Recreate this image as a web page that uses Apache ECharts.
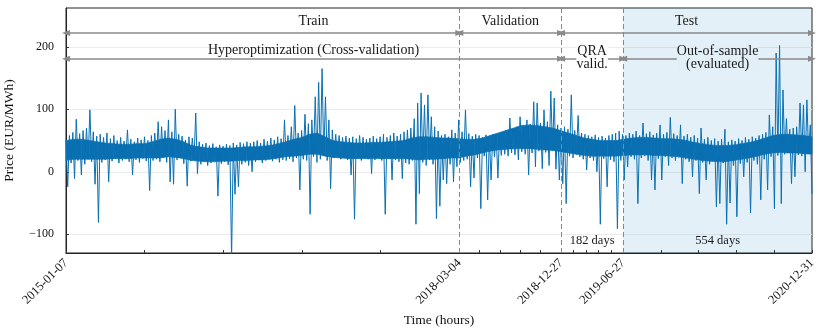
<!DOCTYPE html>
<html>
<head>
<meta charset="utf-8">
<script src="https://cdn.jsdelivr.net/npm/echarts@6/dist/echarts.min.js"></script>
<style>
html, body { margin: 0; padding: 0; background: #fff; }
#chart { width: 822px; height: 336px; }
</style>
</head>
<body>
<div id="chart"></div>
<script>
// hourly price, decimated to one max/min pick every 5 days
const startDate = '2015-01-07';
const stepDays = 5;
const bodyStepDays = 23;
const tickDates = ['2015-01-07', '2018-03-04', '2018-12-27', '2019-06-27', '2020-12-31'];
const yTicks = [-100, 0, 100, 200];

const pricePart1 = [
  52,-24,58,14,63,-11,84,18,61,-5,
  66,12,70,20,99,16,64,-20,57,-81,
  60,15,55,19,62,-16,53,17,58,21,
  50,14,55,18,49,20,67,16,52,-5,
  48,19,54,15,51,21,56,17,50,-30,
  58,18,62,20,80,16,72,22,66,15,
  83,-16,64,-20,100,19,60,24,57,13,
  51,-23,56,17,54,20,94,-3,48,12,
  44,16,46,10,42,14,45,18,40,-39,
  43,13,41,16,44,11,42,-140,46,-36,
  43,-24,47,12,45,15,48,10,46
];
const pricePart2 = [
  0,
  48,16,50,19,46,14,52,18,49,21,
  54,17,51,20,56,15,53,19,83,18,
  58,21,72,16,106,22,62,-29,66,20,
  92,18,77,-68,83,24,120,15,143,20,
  165,26,120,18,83,-27,67,22,60,25,
  58,20,55,23,57,19,54,-5,56,-76,
  53,21,58,18,55,22,52,20,54,-3,
  57,19,53,23,56,18,60,-68,55,21,
  58,-13,62,19,57,16,60,-11,64,14,
  67,12,70,18,85,-84,110,-35,126,15,
  107,10,123,19,88,12,72,-75,65,-55
];
const pricePart3 = [
  58,-13,60,-19,56,12,67,-16,62,8,
  83,15,64,18,99,20,61,-24,57,-10,
  60,22,58,-59,55,25,59,-45,56,-13,
  60,24,58,-10,62,26,64,28,66,25,
  86,30,70,27,72,19,88,32,74,28,
  83,-5,76,30,112,8,110,33,78,5,
  99,31,80,10,129,34,118,4,75,-13,
  70,-19,72,-51,68,25,123,22,66,28,
  90,24,62,20,60,3,58,22,56,18,
  59,0,55,-84,57,21,54,-24,58,19,
  60,16,62,-91,65,18,60
];
const pricePart4 = [
  -13,
  58,8,62,24,60,20,65,-51,58,22,
  78,25,61,18,64,-13,59,-29,62,21,
  75,-13,60,24,63,10,87,22,61,18,
  58,23,75,-19,57,20,60,16,55,-8,
  58,18,54,-35,70,15,52,-13,55,12,
  50,17,53,-56,49,-51,52,14,68,-84,
  48,-50,51,10,49,-72,53,13,50,-8,
  55,15,52,-66,56,18,54,12,58,-45,
  60,20,63,-29,91,24,72,-59,190,26,
  202,-51,131,28,85,30,68,-19,70,-8,
  72,27,110,25,107,0,115,30,75,-35
];

// dense core of the hourly band, every 23 days
const bodyTop = [
  50,52,52,50,48,46,45,44,44,45,45,48,
  52,54,52,48,42,40,38,38,38,38,39,40,
  40,41,42,45,48,52,55,60,62,56,50,48,
  47,46,46,47,47,48,49,50,54,56,56,55,
  54,54,53,52,52,54,58,62,66,70,74,75,
  74,72,70,66,62,58,54,52,50,50,50,52,
  54,55,55,54,53,53,52,50,47,45,43,42,
  42,43,45,47,50,54,58,60,60,59,58,56
];
const bodyBottom = [
  18,20,20,20,20,20,21,21,21,22,22,22,
  22,24,23,21,18,17,16,16,17,17,18,18,
  19,19,20,22,24,25,26,28,28,25,23,22,
  21,21,21,21,21,21,21,21,20,19,20,20,
  21,22,22,25,27,30,33,35,36,37,37,37,
  36,35,34,32,30,28,26,25,25,25,25,26,
  27,27,27,26,26,25,24,22,20,18,17,16,
  16,18,20,22,25,28,30,31,30,30,29,28
];

const prices = [].concat(pricePart1, pricePart2, pricePart3, pricePart4);
const seriesData = prices.map((v, i) => [i * stepDays, v]);
const bodyData = bodyTop.map((v, i) => [i * bodyStepDays, bodyBottom[i], v]);

const dayOf = s => (Date.parse(s) - Date.parse(startDate)) / 864e5;
const dateOf = d => new Date(Date.parse(startDate) + Math.round(d) * 864e5).toISOString().slice(0, 10);
const tickDays = tickDates.map(dayOf);
const [tStart, tValStart, tValEnd, tTestStart, tEnd] = tickDays;
const mid = (a, b) => (a + b) / 2;

// major + 4 minor ticks between labels
const allTicks = [];
for (let k = 0; k < tickDays.length - 1; k++) {
  const a = tickDays[k], b = tickDays[k + 1];
  for (let j = 0; j < 5; j++) allTicks.push(a + (b - a) * j / 5);
}
allTicks.push(tEnd);

const font = 'Liberation Serif';
const blue = '#0a70b2';
const shade = 'rgba(0,114,178,0.11)';
const shadeSolid = '#e3eff6';
const rowTop = 222, rowMid = 181, rowBottom = -110;

const arrow = (a, b, y) => [{ coord: [a, y] }, { coord: [b, y] }];
const note = (name, x, y, size, bg) => ({
  name: name, coord: [x, y],
  label: { fontSize: size, backgroundColor: bg || 'transparent' }
});

// band between two neighbouring core points
function renderBody(params, api) {
  const i = params.dataIndex;
  if (i >= bodyData.length - 1) return null;
  const a = bodyData[i], b = bodyData[i + 1];
  return {
    type: 'polygon',
    shape: { points: [api.coord([a[0], a[2]]), api.coord([b[0], b[2]]), api.coord([b[0], b[1]]), api.coord([a[0], a[1]])] },
    style: { fill: blue, stroke: blue, lineWidth: 0.6 }
  };
}

const chart = echarts.init(document.getElementById('chart'));
chart.setOption({
  animation: false,
  grid: {
    left: 66, right: 10, top: 8, bottom: 83,
    containLabel: false, outerBoundsMode: 'none',
    show: true, borderColor: '#222', borderWidth: 1
  },
  xAxis: {
    type: 'value', min: tStart, max: tEnd,
    name: 'Time (hours)', nameLocation: 'middle', nameGap: 57,
    nameTextStyle: { fontFamily: font, fontSize: 13.5, color: '#111' },
    axisLine: { onZero: false, lineStyle: { color: '#222' } },
    axisTick: { inside: true, length: 3, customValues: allTicks, lineStyle: { color: '#333' } },
    axisLabel: {
      customValues: tickDays, rotate: 45, margin: 8,
      fontFamily: font, fontSize: 12.5, color: '#111',
      formatter: v => dateOf(v)
    },
    splitLine: { show: false }
  },
  yAxis: {
    type: 'value', min: -130, max: 262,
    name: 'Price (EUR/MWh)', nameLocation: 'middle', nameGap: 50,
    nameTextStyle: { fontFamily: font, fontSize: 13.5, color: '#111' },
    axisLine: { show: true, onZero: false, lineStyle: { color: '#222' } },
    axisTick: { show: true, inside: true, length: 3, customValues: yTicks, lineStyle: { color: '#333' } },
    axisLabel: {
      customValues: yTicks, margin: 12,
      fontFamily: font, fontSize: 12, color: '#111',
      formatter: v => (v < 0 ? '\u2212' + Math.abs(v) : String(v))
    },
    splitLine: { show: true, lineStyle: { color: '#ececec', width: 1 } }
  },
  series: [
    {
      type: 'line', data: [], z: 1, silent: true,
      markArea: {
        silent: true, itemStyle: { color: shade },
        data: [[{ xAxis: tTestStart }, { xAxis: tEnd }]]
      },
      markLine: {
        silent: true, symbol: ['none', 'none'],
        label: { show: false },
        lineStyle: { color: '#888', type: [5, 3], width: 1 },
        data: [{ xAxis: tValStart }, { xAxis: tValEnd }, { xAxis: tTestStart }]
      }
    },
    {
      type: 'custom', data: bodyData, z: 2, silent: true,
      encode: { x: 0, y: [1, 2] },
      renderItem: renderBody
    },
    {
      type: 'line', data: seriesData, z: 2,
      showSymbol: false, symbol: 'none', sampling: 'none',
      lineStyle: { color: blue, width: 1 },
      itemStyle: { color: blue }
    },
    {
      type: 'line', data: [], z: 3, silent: true,
      markLine: {
        silent: true, symbol: ['triangle', 'triangle'], symbolSize: [6, 8],
        label: { show: false },
        lineStyle: { color: '#8a8a8a', type: 'solid', width: 1.5 },
        itemStyle: { color: '#8a8a8a' },
        data: [
          arrow(tStart, tValStart, rowTop),
          arrow(tValStart, tValEnd, rowTop),
          arrow(tValEnd, tEnd, rowTop),
          arrow(tStart, tValEnd, rowMid),
          arrow(tValEnd, tTestStart, rowMid),
          arrow(tTestStart, tEnd, rowMid)
        ]
      }
    },
    {
      type: 'line', data: [], z: 4, silent: true,
      markPoint: {
        silent: true, symbol: 'circle', symbolSize: 1,
        itemStyle: { color: 'rgba(0,0,0,0)' },
        label: {
          show: true, position: 'inside', formatter: '{b}',
          fontFamily: font, color: '#1a1a1a', lineHeight: 13, padding: 0
        },
        data: [
          note('Train', mid(tStart, tValEnd), 240, 14),
          note('Validation', mid(tValStart, tValEnd), 240, 14),
          note('Test', mid(tValEnd, tEnd), 240, 14),
          note('Hyperoptimization (Cross-validation)', mid(tStart, tValEnd), 195, 14),
          note('QRA\nvalid.', mid(tValEnd, tTestStart), 182, 14, '#fff'),
          note('Out-of-sample\n(evaluated)', mid(tTestStart, tEnd), 182, 14, shadeSolid),
          note('182 days', mid(tValEnd, tTestStart), rowBottom, 12.5),
          note('554 days', mid(tTestStart, tEnd), rowBottom, 12.5)
        ]
      }
    }
  ]
});
</script>
</body>
</html>
